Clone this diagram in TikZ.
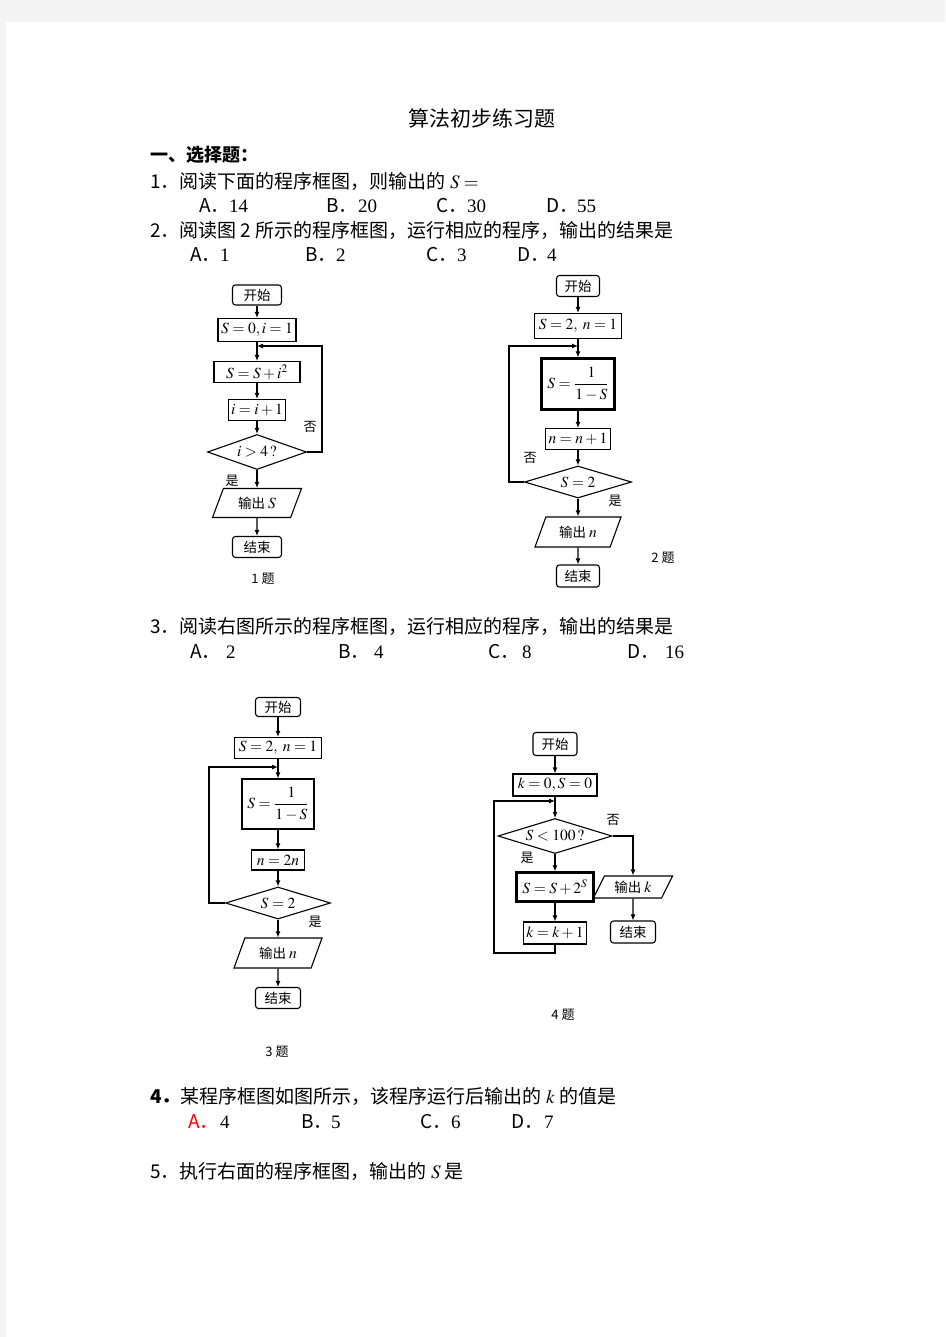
\documentclass[tikz,border=0pt]{standalone}
\usepackage{mathptmx}
\usepackage{fontspec}
\setmainfont{Liberation Serif}
\newfontfamily\cjk{Noto Sans CJK SC}
\usetikzlibrary{shapes.geometric,arrows.meta}
\definecolor{pagegray}{RGB}{244,244,244}
\newcommand{\txtfont}{\cjk\fontsize{19}{23}\selectfont}
\newcommand{\fcfont}{\cjk\fontsize{13.5}{16}\selectfont}
\newcommand{\fm}[1]{{\fontsize{15.5}{18}\selectfont$#1$}}

\begin{document}
\begin{tikzpicture}[x=1pt,y=-1pt,
    txt/.style={anchor=west,inner sep=0,font=\txtfont},
    num/.style={anchor=west,inner sep=0,font=\fontsize{19}{23}\selectfont},
    lab/.style={inner sep=0,font=\cjk\fontsize{13}{15}\selectfont},
    term/.style={draw,rounded corners=3pt,line width=1.1pt,inner sep=0,font=\fcfont},
    proc/.style={draw,line width=1.1pt,inner sep=0,font=\fcfont},
    thickproc/.style={proc,line width=2.2pt},
    decide/.style={draw,diamond,aspect=3,line width=1.1pt,inner sep=0,font=\fcfont},
    io/.style={draw,trapezium,trapezium left angle=53,trapezium right angle=127,
      trapezium stretches body,line width=1.1pt,inner sep=1pt,font=\fcfont},
    arr/.style={line width=1.1pt,-{Latex[length=6pt,width=5pt]}}]

    % page
    \fill[pagegray] (0,0) rectangle (945,1337);
    \fill[white] (6,22) rectangle (945,1337);

    % these are the lines of text
    \node[inner sep=0,font=\cjk\fontsize{21}{25}\selectfont] (title) at (482,118) {算法初步练习题};
    \node[txt,font=\cjk\bfseries\fontsize{18}{22}\selectfont] (sec) at (150,155) {一、选择题：};
    \node[txt] (q1) at (150,181) {1．阅读下面的程序框图，则输出的 $S=$};
    \foreach \oo/\xa/\xv/\vv in {A/199/229/14,B/326/358/20,C/436/467/30,D/546/577/55}
      {\node[txt] (q1\oo) at (\xa,206) {\oo．};
       \node[num] (q1\oo v) at (\xv,206) {\vv};}
    \node[txt] (q2) at (150,230) {2．阅读图 2 所示的程序框图，运行相应的程序，输出的结果是};
    \foreach \oo/\xa/\xv/\vv in {A/190/220/1,B/305/336/2,C/426/457/3,D/517/547/4}
      {\node[txt] (q2\oo) at (\xa,255) {\oo．};
       \node[num] (q2\oo v) at (\xv,255) {\vv};}
    \node[txt] (q3) at (150,626) {3．阅读右图所示的程序框图，运行相应的程序，输出的结果是};
    \foreach \oo/\xa/\xv/\vv in {A/190/226/2,B/338/374/4,C/488/522/8,D/627/665/16}
      {\node[txt] (q3\oo) at (\xa,652) {\oo．};
       \node[num] (q3\oo v) at (\xv,652) {\vv};}
    \node[txt] (q4) at (150,1096) {{\bfseries 4．}某程序框图如图所示，该程序运行后输出的 $k$ 的值是};
    \node[txt,text=red] (q4A) at (188,1122) {A．};
    \node[num] (q4Av) at (220,1122) {4};
    \foreach \oo/\xa/\xv/\vv in {B/301/331/5,C/420/451/6,D/511/544/7}
      {\node[txt] (q4\oo) at (\xa,1122) {\oo．};
       \node[num] (q4\oo v) at (\xv,1122) {\vv};}
    \node[txt] (q5) at (150,1171) {5．执行右面的程序框图，输出的 $S$ 是};

    % flowchart 1
    \node[term,minimum width=49,minimum height=20] (s1) at (257,295) {开始};
    \node[proc,minimum width=78,minimum height=23] (a1) at (257,330) {\fm{S=0,i=1}};
    \coordinate (j1) at (257,346);
    \node[proc,minimum width=86,minimum height=21] (b1) at (257,372) {\fm{S=S+i^2}};
    \node[proc,minimum width=57,minimum height=21] (c1) at (257,410) {\fm{i=i+1}};
    \node[decide,minimum width=99,minimum height=35] (d1) at (257,452) {\fm{i>4\,?}};
    \node[io,minimum width=89,minimum height=29] (o1) at (257,503) {输出 \fm{S}};
    \node[term,minimum width=49,minimum height=21] (e1) at (257,547) {结束};
    \node[lab] (no1) at (310,427) {否};
    \node[lab] (yes1) at (232,481) {是};
    \node[lab] (cap1) at (263,579) {1 题};
    \coordinate (r1) at (322,346);
    \draw[arr] (s1) -- (a1);
    \draw[arr] (a1) -- (b1);
    \draw[arr] (b1) -- (c1);
    \draw[arr] (c1) -- (d1);
    \draw[arr] (d1) -- (o1);
    \draw[arr] (o1) -- (e1);
    \draw[arr] (d1.east) -| (r1) -- (j1);

    % flowchart 2
    \node[term,minimum width=43,minimum height=21] (s2) at (578,286) {开始};
    \node[proc,minimum width=87,minimum height=25] (a2) at (578,326) {\fm{S=2,\ n=1}};
    \coordinate (j2) at (578,346);
    \node[thickproc,minimum width=73,minimum height=51] (b2) at (578,384) {\fm{S=\displaystyle\frac{1}{1-S}}};
    \node[proc,minimum width=65,minimum height=21] (c2) at (578,439) {\fm{n=n+1}};
    \node[decide,minimum width=107,minimum height=32] (d2) at (578,482) {\fm{S=2}};
    \node[io,minimum width=86,minimum height=30] (o2) at (578,532) {输出 \fm{n}};
    \node[term,minimum width=43,minimum height=22] (e2) at (578,576) {结束};
    \node[lab] (no2) at (530,458) {否};
    \node[lab] (yes2) at (615,501) {是};
    \node[lab] (cap2) at (663,558) {2 题};
    \coordinate (l2) at (509,346);
    \draw[arr] (s2) -- (a2);
    \draw[arr] (a2) -- (b2);
    \draw[arr] (b2) -- (c2);
    \draw[arr] (c2) -- (d2);
    \draw[arr] (d2) -- (o2);
    \draw[arr] (o2) -- (e2);
    \draw[arr] (d2.west) -| (l2) -- (j2);

    % flowchart 3
    \node[term,minimum width=45,minimum height=19] (s3) at (278,707) {开始};
    \node[proc,minimum width=87,minimum height=21] (a3) at (278,748) {\fm{S=2,\ n=1}};
    \coordinate (j3) at (278,767);
    \node[proc,minimum width=72,minimum height=50] (b3) at (278,804) {\fm{S=\displaystyle\frac{1}{1-S}}};
    \node[proc,minimum width=53,minimum height=20] (c3) at (278,860) {\fm{n=2n}};
    \node[decide,minimum width=105,minimum height=32] (d3) at (278,903) {\fm{S=2}};
    \node[io,minimum width=88,minimum height=30] (o3) at (278,953) {输出 \fm{n}};
    \node[term,minimum width=45,minimum height=21] (e3) at (278,998) {结束};
    \node[lab] (yes3) at (315,922) {是};
    \node[lab] (cap3) at (277,1052) {3 题};
    \coordinate (l3) at (209,767);
    \draw[arr] (s3) -- (a3);
    \draw[arr] (a3) -- (b3);
    \draw[arr] (b3) -- (c3);
    \draw[arr] (c3) -- (d3);
    \draw[arr] (d3) -- (o3);
    \draw[arr] (o3) -- (e3);
    \draw[arr] (d3.west) -| (l3) -- (j3);

    % flowchart 4
    \node[term,minimum width=44,minimum height=23] (s4) at (555,744) {开始};
    \node[proc,minimum width=84,minimum height=22] (a4) at (555,785) {\fm{k=0,S=0}};
    \coordinate (j4) at (555,801);
    \node[decide,minimum width=114,minimum height=35] (d4) at (555,836) {\fm{S<100\,?}};
    \node[thickproc,minimum width=77,minimum height=29] (b4) at (555,887) {\fm{S=S+2^S}};
    \node[proc,minimum width=63,minimum height=22] (c4) at (555,933) {\fm{k=k+1}};
    \node[io,minimum width=79,minimum height=22] (o4) at (633,887) {输出 \fm{k}};
    \node[term,minimum width=45,minimum height=22] (e4) at (633,932) {结束};
    \node[lab] (no4) at (613,820) {否};
    \node[lab] (yes4) at (527,858) {是};
    \node[lab] (cap4) at (563,1015) {4 题};
    \coordinate (l4) at (494,953);
    \coordinate (m4) at (494,801);
    \draw[arr] (s4) -- (a4);
    \draw[arr] (a4) -- (d4);
    \draw[arr] (d4) -- (b4);
    \draw[arr] (b4) -- (c4);
    \draw[arr] (d4.east) -| (o4.north);
    \draw[arr] (o4) -- (e4);
    \draw[arr] (c4.south) |- (l4) -- (m4) -- (j4);

\end{tikzpicture}
\end{document}
